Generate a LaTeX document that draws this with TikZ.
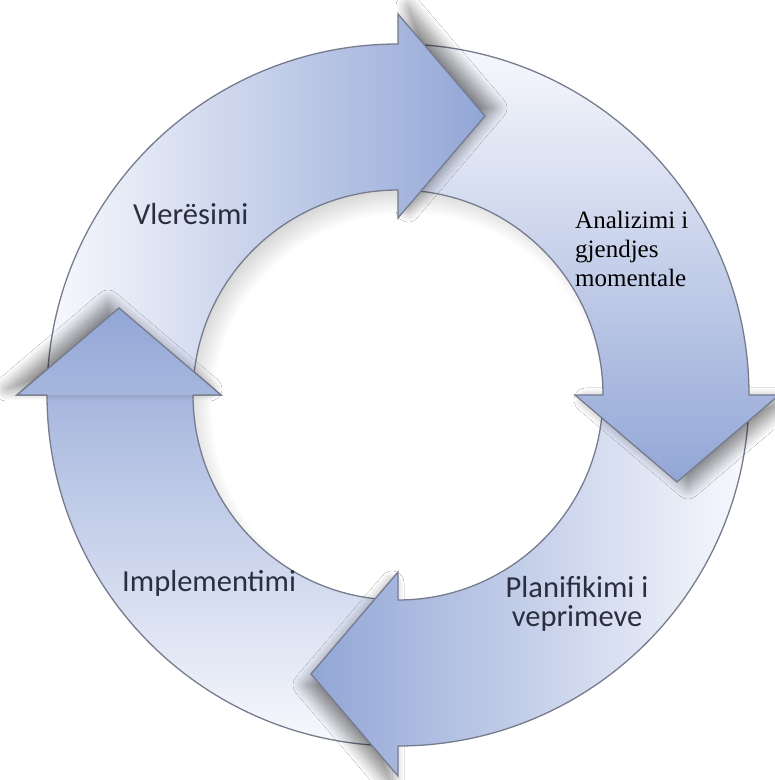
\documentclass[tikz,border=0pt]{standalone}
\usepackage{fontspec}
\setmainfont{Carlito}
\newfontfamily\timesfont{Liberation Serif}
\usetikzlibrary{shadows.blur}
\definecolor{adark}{RGB}{146,166,214}
\definecolor{alight}{RGB}{248,249,253}
\definecolor{aedge}{RGB}{118,124,142}
\definecolor{atext}{RGB}{42,46,62}
\pgfdeclareradialshading{holeshade}{\pgfpoint{0bp}{0bp}}{color(0bp)=(white); color(22bp)=(white); color(25bp)=(black!16); color(50bp)=(black!16)}
% arrow body + head, head base at angle #1, travelling clockwise
\newcommand\arrowpath[1]{({#1+86}:351) arc[start angle={#1+86}, end angle={#1}, radius=351] -- ({#1}:381) -- ({#1-17.32}:292.25) -- ({#1}:177) -- ({#1}:205) arc[start angle={#1}, end angle={#1+86}, radius=205] -- cycle}
\newcommand\headpath[1]{({#1}:381) -- ({#1-17.32}:292.25) -- ({#1}:177) -- cycle}
\tikzset{
  arrowline/.style={draw=aedge, line width=1.3pt, line join=miter},
  hshadow/.style 2 args={blur shadow={shadow xshift=#1, shadow yshift=#2, shadow blur radius=12pt, shadow opacity=45, shadow blur steps=16}},
  lbl/.style={inner sep=0pt, text=atext, font=\fontsize{30.5}{29}\selectfont},
}
\begin{document}
\begin{tikzpicture}[x=1pt,y=1pt]
\useasboundingbox (0,0) rectangle (775,780);
\fill[white] (0,0) rectangle (775,780);
\begin{scope}[shift={(398,385)}]
  % soft shadow inside the hole
  \begin{scope}
    \clip (0,0) circle[radius=205];
    \shade[shading=holeshade] (10,-14) circle[radius=222];
  \end{scope}
  % left arrow (head up, at 180)
  \shade[arrowline, bottom color=alight, top color=adark] \arrowpath{180};
  % bottom arrow (head left, at 270)
  \path[hshadow={-6pt}{-11pt}] \headpath{270};
  \shade[arrowline, left color=adark, right color=alight] \arrowpath{270};
  % right arrow (head down, at 0)
  \path[hshadow={11pt}{-5pt}] \headpath{0};
  \shade[arrowline, top color=alight, bottom color=adark] \arrowpath{0};
  % top arrow (head right, at 90)
  \path[hshadow={10pt}{8pt}] \headpath{90};
  \shade[arrowline, left color=alight, right color=adark] \arrowpath{90};
  % left head on top of the top arrow tail
  \path[hshadow={-11pt}{6pt}] \headpath{180};
  \begin{scope}
    \clip \headpath{180};
    \shade[bottom color=alight, top color=adark] \arrowpath{180};
  \end{scope}
  \draw[arrowline] (180:205) -- (180:177) -- ({180-17.32}:292.25) -- (180:381) -- (180:351);
\end{scope}
\node[lbl, anchor=base west] (vl) at (133,555) {Vlerësimi};
\node[lbl, anchor=base west] (im) at (122,188) {Implementimi};
\node[lbl, anchor=north, align=center] (pl) at (577,204) {Planifikimi i\\veprimeve};
\node[inner sep=0pt, anchor=north west, align=left, font=\timesfont\fontsize{25}{29}\selectfont] (an) at (575,569) {Analizimi i\\gjendjes\\momentale};
\end{tikzpicture}
\end{document}
